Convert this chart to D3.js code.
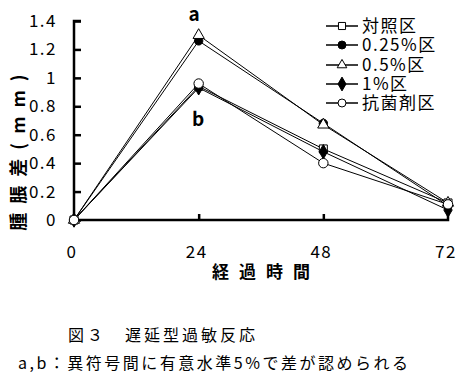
<!DOCTYPE html>
<html><head><meta charset="utf-8">
<script src="https://cdn.jsdelivr.net/npm/d3@7"></script>
<style>
body{margin:0;background:#fff;}
text{font-family:"Noto Sans CJK JP","Noto Sans",sans-serif;fill:#000;}
</style></head><body>
<script>
const hours = [0, 24, 48, 72];
const seriesNames = ["対照区", "0.25%区", "0.5%区", "1%区", "抗菌剤区"];
const controlVals = [0, 0.94, 0.50, 0.12];
const pct025Vals = [0, 1.26, 0.68, 0.10];
const pct05Vals = [0, 1.30, 0.67, 0.12];
const pct1Vals = [0, 0.93, 0.48, 0.07];
const antibioticVals = [0, 0.96, 0.40, 0.11];
const yTicks = [0, 0.2, 0.4, 0.6, 0.8, 1, 1.2, 1.4];
const markers = ["square", "circleFilled", "triangle", "diamond", "circle"];
const seriesVals = [controlVals, pct025Vals, pct05Vals, pct1Vals, antibioticVals];

const W = 467, H = 384;
const svg = d3.select("body").append("svg").attr("width", W).attr("height", H);
const x = d3.scaleLinear().domain([0, 72]).range([74, 448]);
const y = d3.scaleLinear().domain([0, 1.4]).range([220, 21]);

// axes
const yAxis = d3.axisRight(y).tickValues(yTicks).tickSize(7).tickFormat("");
const gy = svg.append("g").attr("transform", `translate(${x(0)},0)`).call(yAxis);
gy.select(".domain").attr("d", `M7,${y(1.4)}H0V${y(0)}`).attr("stroke-width", 2.5);
gy.selectAll(".tick line").attr("stroke-width", 2.5);

const xAxis = d3.axisTop(x).tickValues([24, 48]).tickSize(6).tickFormat("");
const gx = svg.append("g").attr("transform", `translate(0,${y(0)})`).call(xAxis);
gx.select(".domain").attr("d", `M${x(0)},0H${x(72)}V-6`).attr("stroke-width", 2.5);
gx.selectAll(".tick line").attr("stroke-width", 2.5);

// tick labels
svg.append("g").selectAll("text").data(yTicks).join("text")
  .attr("x", 57).attr("y", d => y(d) + 6)
  .attr("text-anchor", "end").attr("font-size", 17).attr("letter-spacing", 1.5)
  .text(d => d3.format("~g")(d));
svg.append("g").selectAll("text").data(hours).join("text")
  .attr("x", d => x(d) - 2).attr("y", 258)
  .attr("text-anchor", "middle").attr("font-size", 17).attr("letter-spacing", 1.5)
  .text(d => d);

// axis titles
svg.append("text").attr("x", 266).attr("y", 278).attr("text-anchor", "middle")
  .attr("font-size", 17).attr("font-weight", "bold").attr("letter-spacing", 10)
  .text("経過時間");
svg.append("text").attr("transform", "translate(25,148) rotate(-90)").attr("text-anchor", "middle")
  .attr("font-size", 18).attr("font-weight", "bold").attr("letter-spacing", 9)
  .text("腫脹差(mm)");

// lines
const line = d3.line().x((d, i) => x(hours[i])).y(d => y(d));
const sym = {
  square: d3.symbol(d3.symbolSquare, 64),
  circleFilled: d3.symbol(d3.symbolCircle, 55),
  triangle: d3.symbol(d3.symbolTriangle, 55),
  diamond: d3.symbol(d3.symbolDiamond, 60),
  circle: d3.symbol(d3.symbolCircle, 70)
};
const filled = {square: false, circleFilled: true, triangle: false, diamond: true, circle: false};

seriesVals.forEach((vals, si) => {
  svg.append("path").datum(vals).attr("d", line)
    .attr("fill", "none").attr("stroke", "#000").attr("stroke-width", 1);
});
seriesVals.forEach((vals, si) => {
  const m = markers[si];
  svg.append("g").selectAll("path").data(vals).join("path")
    .attr("transform", (d, i) => `translate(${x(hours[i])},${y(d)})`)
    .attr("d", sym[m]())
    .attr("fill", filled[m] ? "#000" : "#fff").attr("stroke", "#000").attr("stroke-width", 1);
});

// significance letters
svg.append("text").attr("x", 194).attr("y", 21).attr("text-anchor", "middle")
  .attr("font-size", 19).attr("font-weight", "bold").text("a");
svg.append("text").attr("x", 198).attr("y", 126).attr("text-anchor", "middle")
  .attr("font-size", 19).attr("font-weight", "bold").text("b");

// legend
const legY = [26, 45, 65, 84, 103];
const leg = svg.append("g").selectAll("g").data(seriesNames).join("g")
  .attr("transform", (d, i) => `translate(0,${legY[i]})`);
leg.append("line").attr("x1", 326).attr("x2", 358).attr("stroke", "#000").attr("stroke-width", 1.5);
leg.append("path").attr("transform", "translate(342,0)")
  .attr("d", (d, i) => d3.symbol(
    [d3.symbolSquare, d3.symbolCircle, d3.symbolTriangle, d3.symbolDiamond, d3.symbolCircle][i],
    [50, 50, 40, 55, 50][i])())
  .attr("fill", (d, i) => filled[markers[i]] ? "#000" : "#fff").attr("stroke", "#000");
leg.append("text").attr("x", 362).attr("y", 6).attr("font-size", 17).attr("letter-spacing", 1.5).text(d => d);

// captions
svg.append("text").attr("x", 68).attr("y", 341).attr("font-size", 16).attr("letter-spacing", 3)
  .text("図３　遅延型過敏反応");
svg.append("text").attr("x", 18).attr("y", 369).attr("font-size", 16).attr("letter-spacing", 2.5)
  .text("a,b：異符号間に有意水準5%で差が認められる");
</script></body></html>
